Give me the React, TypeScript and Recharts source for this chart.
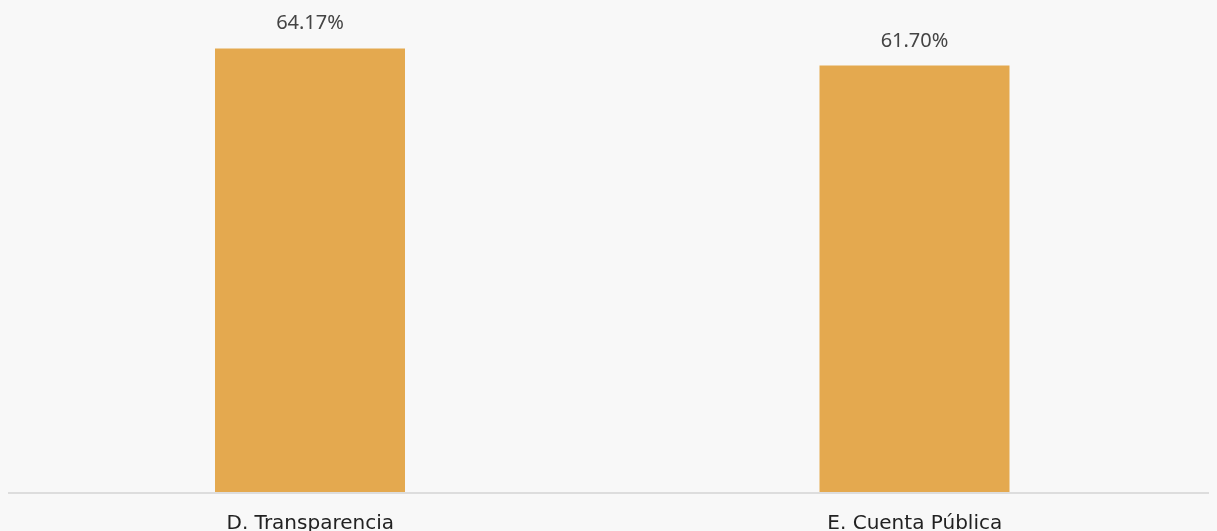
import React from "react";
import { BarChart, Bar, XAxis, YAxis, LabelList } from "recharts";

const categories = ["D. Transparencia", "E. Cuenta Pública"];
const values = [64.17, 61.7];
const valueLabels = ["64.17%", "61.70%"];

const data = categories.map((c, i) => ({ name: c, value: values[i], label: valueLabels[i] }));

export default function App() {
  return (
    <>
      <div style={{ position: "fixed", left: 0, top: 0, right: 0, bottom: 0, background: "#f8f8f8", zIndex: -1 }} />
      <div style={{ width: 1217, height: 523, overflow: "hidden", position: "relative" }}>
        <BarChart
          width={1217}
          height={560}
          data={data}
          margin={{ top: 0, right: 8, bottom: 0, left: 0 }}
          barCategoryGap={0}
        >
          <XAxis
            dataKey="name"
            axisLine={{ stroke: "#dddddd", strokeWidth: 2 }}
            tickLine={false}
            tickMargin={16}
            height={75}
            interval={0}
            tick={{ fill: "#222222", fontSize: 20, fontFamily: "DejaVu Sans" }}
          />
          <YAxis hide domain={[0, 70]} />
          <Bar dataKey="value" fill="#e4a94f" barSize={190} isAnimationActive={false}>
            <LabelList
              dataKey="label"
              position="top"
              offset={19}
              fill="#444444"
              fontSize={20}
              fontFamily="Noto Sans"
            />
          </Bar>
        </BarChart>
      </div>
    </>
  );
}
